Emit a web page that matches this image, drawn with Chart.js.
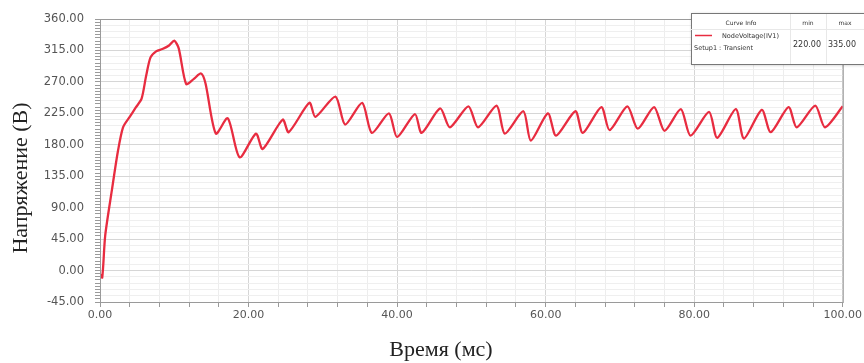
<!DOCTYPE html>
<html>
<head>
<meta charset="utf-8">
<script src="https://cdn.jsdelivr.net/npm/chart.js@4.4.1/dist/chart.umd.min.js"></script>
<style>
  html, body { margin: 0; padding: 0; background: #fff; }
  canvas { display: block; }
</style>
</head>
<body>
<canvas id="chart" width="864" height="363"></canvas>
<script>
// time (ms) and node voltage (V)
const timeMs = [0, 0.3, 0.7, 1.6, 2.4, 3.1, 4.0, 4.8, 5.6, 6.2, 6.8, 7.6, 8.4, 9.3, 10.0, 10.6, 11.6, 12.6, 13.6, 14.2,
  15.6, 17.2, 18.8, 21.0, 21.9, 24.6, 25.4, 28.2, 29.0, 31.7, 33.0, 35.3, 36.6, 38.9, 40.0, 42.4, 43.3, 45.8,
  47.1, 49.6, 50.9, 53.4, 54.5, 57.0, 58.0, 60.3, 61.4, 64.0, 65.0, 67.5, 68.6, 71.0, 72.4, 74.6, 76.0, 78.2,
  79.5, 82.0, 83.1, 85.6, 86.7, 89.1, 90.3, 92.7, 93.8, 96.3, 97.6, 100];
const voltage = [-5, -10, 50, 115, 170, 205, 220, 233, 246, 278, 305, 314, 317, 322, 329, 318, 267, 274, 282, 268,
  196, 218, 162, 196, 174, 216, 198, 240, 220, 249, 209, 240, 197, 225, 191, 224, 197, 232,
  205, 235, 205, 236, 196, 228, 186, 225, 193, 228, 197, 234, 201, 235, 203, 234, 200, 231,
  193, 227, 190, 231, 189, 230, 198, 234, 205, 236, 205, 235];

const xLabels = [0, 20, 40, 60, 80, 100];
const yLabels = [-45, 0, 45, 90, 135, 180, 225, 270, 315, 360];
const seriesName = 'NodeVoltage(IV1)';
const setupName = 'Setup1 : Transient';
const infoMin = '220.00';
const infoMax = '335.00';

const isMult = (v, m) => Math.abs(v / m - Math.round(v / m)) < 1e-6;
const lineColor = 'rgb(232,44,64)';

// box border, axis titles and the curve info table
const extras = {
  id: 'extras',
  afterDraw(chart) {
    const { ctx, chartArea: a } = chart;
    ctx.save();
    ctx.strokeStyle = '#9a9a9a';
    ctx.lineWidth = 1;
    ctx.strokeRect(a.left + 0.5, a.top + 0.5, a.right - a.left, a.bottom - a.top);

    ctx.fillStyle = '#222';
    ctx.font = '22px "Liberation Serif"';
    ctx.textAlign = 'center';
    ctx.textBaseline = 'middle';
    ctx.fillText('Время (мс)', 441, 350);
    ctx.translate(21, 178);
    ctx.rotate(-Math.PI / 2);
    ctx.fillText('Напряжение (В)', 0, 0);
    ctx.restore();

    // legend table
    ctx.save();
    ctx.fillStyle = '#fff';
    ctx.shadowColor = 'rgba(0,0,0,0.25)';
    ctx.shadowBlur = 3;
    ctx.shadowOffsetX = 1;
    ctx.shadowOffsetY = 1;
    ctx.fillRect(691, 13, 180, 51);
    ctx.shadowColor = 'transparent';
    ctx.strokeStyle = '#777';
    ctx.strokeRect(691.5, 13.5, 180, 51);
    ctx.strokeStyle = '#e8e8e8';
    ctx.beginPath();
    ctx.moveTo(691, 29.5); ctx.lineTo(864, 29.5);
    ctx.moveTo(790.5, 14); ctx.lineTo(790.5, 64);
    ctx.moveTo(826.5, 14); ctx.lineTo(826.5, 64);
    ctx.stroke();

    ctx.fillStyle = '#333';
    ctx.textBaseline = 'middle';
    ctx.textAlign = 'center';
    ctx.font = '6px "DejaVu Sans"';
    ctx.fillText('Curve Info', 741, 23);
    ctx.fillText('min', 808, 23);
    ctx.fillText('max', 845, 23);
    ctx.textAlign = 'left';
    ctx.font = '6.5px "DejaVu Sans"';
    ctx.fillText(seriesName, 722, 36);
    ctx.fillText(setupName, 694, 48);
    ctx.font = '8px "DejaVu Sans"';
    ctx.fillText(infoMin, 793, 45);
    ctx.fillText(infoMax, 828, 45);
    ctx.strokeStyle = lineColor;
    ctx.lineWidth = 1.5;
    ctx.beginPath();
    ctx.moveTo(695, 35.5); ctx.lineTo(712, 35.5);
    ctx.stroke();
    ctx.restore();
  }
};

new Chart(document.getElementById('chart'), {
  type: 'line',
  data: {
    datasets: [{
      label: seriesName,
      data: timeMs.map((t, i) => ({ x: t, y: voltage[i] })),
      borderColor: lineColor,
      borderWidth: 2.3,
      pointRadius: 0,
      tension: 0.25
    }]
  },
  options: {
    responsive: false,
    animation: false,
    layout: { padding: { top: 19, right: 18, left: 0, bottom: 0 } },
    plugins: { legend: { display: false }, tooltip: { enabled: false } },
    scales: {
      x: {
        type: 'linear',
        min: 0,
        max: 100,
        afterFit(scale) { scale.height = 61; },
        border: { color: '#9a9a9a' },
        grid: {
          tickLength: 5,
          color: c => isMult(c.tick.value, 20) ? '#d6d6d6' : '#ededed',
          tickColor: '#9a9a9a'
        },
        ticks: {
          stepSize: 4,
          autoSkip: false,
          maxRotation: 0,
          padding: 2,
          color: '#555',
          font: { family: 'DejaVu Sans', size: 11 },
          callback: v => xLabels.some(l => Math.abs(v - l) < 1e-6) ? v.toFixed(2) : ''
        }
      },
      y: {
        min: -45,
        max: 360,
        afterFit(scale) { scale.width = 100; },
        border: { color: '#9a9a9a' },
        grid: {
          tickLength: 5,
          color: c => isMult(c.tick.value, 45) ? '#d6d6d6' : (isMult(c.tick.value, 9) ? '#efefef' : 'rgba(0,0,0,0)'),
          tickColor: '#9a9a9a'
        },
        ticks: {
          stepSize: 4.5,
          autoSkip: false,
          padding: 11,
          color: '#555',
          font: { family: 'DejaVu Sans', size: 11.5 },
          callback: v => yLabels.some(l => Math.abs(v - l) < 1e-6) ? v.toFixed(2) : ''
        }
      }
    }
  },
  plugins: [extras]
});
</script>
</body>
</html>
